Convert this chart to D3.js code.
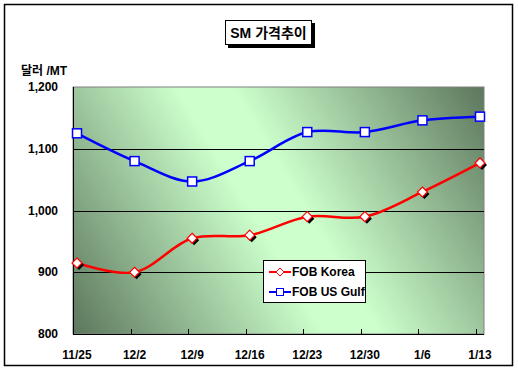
<!DOCTYPE html>
<html>
<head>
<script src="https://d3js.org/d3.v7.min.js"></script>
<style>
body { margin: 0; background: #fff; }
svg { font-family: "Liberation Sans", Arial, "Noto Sans CJK KR", sans-serif; font-weight: bold; }
</style>
</head>
<body>
<svg id="root" width="518" height="374"></svg>
<script>
let dates = ['11/25', '12/2', '12/9', '12/16', '12/23', '12/30', '1/6', '1/13']
let korea = [915, 900, 955, 960, 990, 990, 1030, 1077]
let usGulf = [1125, 1080, 1047, 1080, 1127, 1127, 1146, 1152]
let yTicks = [800, 900, 1000, 1100, 1200]

let svg = d3.select('#root')
let plotL = 73, plotR = 484, plotT = 87, plotB = 334

// frame
svg.append('rect').attr('x', 4.5).attr('y', 4.5).attr('width', 508).attr('height', 361)
	.attr('fill', '#fff').attr('stroke', '#000').attr('stroke-width', 1.5)

let defs = svg.append('defs')
let grad = defs.append('linearGradient').attr('id', 'bg')
	.attr('gradientUnits', 'userSpaceOnUse')
	.attr('x1', plotL).attr('y1', plotB).attr('x2', plotR).attr('y2', plotT)
grad.append('stop').attr('offset', '0%').attr('stop-color', '#5c765c')
grad.append('stop').attr('offset', '45%').attr('stop-color', '#ccffcc')
grad.append('stop').attr('offset', '55%').attr('stop-color', '#ccffcc')
grad.append('stop').attr('offset', '100%').attr('stop-color', '#5c765c')

let x = d3.scalePoint().domain(dates).range([77, 480])
let y = d3.scaleLinear().domain([800, 1200]).range([plotB, plotT])

svg.append('rect').attr('x', plotL).attr('y', plotT).attr('width', plotR - plotL).attr('height', plotB - plotT)
	.attr('fill', 'url(#bg)').attr('stroke', '#808080').attr('stroke-width', 1)

// gridlines
svg.selectAll('.grid').data(yTicks.slice(1, -1)).enter().append('line')
	.attr('x1', plotL).attr('x2', plotR)
	.attr('y1', d => Math.round(y(d)) + 0.5).attr('y2', d => Math.round(y(d)) + 0.5)
	.attr('stroke', '#000')

// axes
svg.append('line').attr('x1', plotL + 0.5).attr('x2', plotL + 0.5).attr('y1', plotT).attr('y2', plotB).attr('stroke', '#000')
svg.append('line').attr('x1', plotL).attr('x2', plotR).attr('y1', plotB + 0.5).attr('y2', plotB + 0.5).attr('stroke', '#000')

// x ticks, inward
svg.selectAll('.xtick').data(dates.slice(1)).enter().append('line')
	.attr('x1', d => Math.round(x(d) - 4) + 0.5).attr('x2', d => Math.round(x(d) - 4) + 0.5)
	.attr('y1', plotB).attr('y2', plotB - 5).attr('stroke', '#000')

svg.selectAll('.xlab').data(dates).enter().append('text')
	.attr('x', d => x(d)).attr('y', 359).attr('text-anchor', 'middle')
	.attr('font-size', 12).text(d => d)

svg.selectAll('.ylab').data(yTicks).enter().append('text')
	.attr('x', 58).attr('y', d => y(d) + 4).attr('text-anchor', 'end')
	.attr('font-size', 12).text(d => d3.format(',')(d))

svg.append('text').attr('x', 21).attr('y', 75).attr('font-size', 12).text('달러 /MT')

// title
svg.append('rect').attr('x', 228).attr('y', 23).attr('width', 87).attr('height', 25).attr('fill', '#000')
svg.append('rect').attr('x', 225.5).attr('y', 20.5).attr('width', 86).attr('height', 24).attr('fill', '#fff').attr('stroke', '#000')
svg.append('text').attr('x', 268.5).attr('y', 38).attr('text-anchor', 'middle').attr('font-size', 14).text('SM 가격추이')

// lines
let line = d3.line().x((d, i) => x(dates[i])).y(d => y(d)).curve(d3.curveCatmullRom.alpha(0.5))

svg.append('path').datum(usGulf).attr('d', line).attr('fill', 'none').attr('stroke', '#0000ff').attr('stroke-width', 2.5)
svg.append('path').datum(korea).attr('d', line).attr('fill', 'none').attr('stroke', '#ff0000').attr('stroke-width', 2.5)

function diamond(g, cx, cy) {
	let r = 5
	g.append('path').attr('d', `M${cx + 2},${cy - r + 2}L${cx + r + 2},${cy + 2}L${cx + 2},${cy + r + 2}L${cx - r + 2},${cy + 2}Z`).attr('fill', '#000')
	g.append('path').attr('d', `M${cx},${cy - r}L${cx + r},${cy}L${cx},${cy + r}L${cx - r},${cy}Z`)
		.attr('fill', '#fff').attr('stroke', '#ff0000').attr('stroke-width', 1.2)
}
function square(g, cx, cy) {
	g.append('rect').attr('x', cx - 4.5).attr('y', cy - 4.5).attr('width', 9).attr('height', 9)
		.attr('fill', '#fff').attr('stroke', '#0000ff').attr('stroke-width', 1.5)
}

let marks = svg.append('g')
usGulf.forEach((d, i) => square(marks, x(dates[i]), y(d)))
korea.forEach((d, i) => diamond(marks, x(dates[i]), y(d)))

// legend
let lg = svg.append('g')
lg.append('rect').attr('x', 263.5).attr('y', 260.5).attr('width', 102).attr('height', 42).attr('fill', '#fff').attr('stroke', '#000')
lg.append('line').attr('x1', 269).attr('x2', 291).attr('y1', 272).attr('y2', 272).attr('stroke', '#ff0000').attr('stroke-width', 2)
lg.append('path').attr('d', 'M280,268L284,272L280,276L276,272Z').attr('fill', '#fff').attr('stroke', '#ff0000')
lg.append('text').attr('x', 292).attr('y', 276).attr('font-size', 12).text('FOB Korea')
lg.append('line').attr('x1', 269).attr('x2', 291).attr('y1', 292).attr('y2', 292).attr('stroke', '#0000ff').attr('stroke-width', 2)
lg.append('rect').attr('x', 276.5).attr('y', 288.5).attr('width', 7).attr('height', 7).attr('fill', '#fff').attr('stroke', '#0000ff')
lg.append('text').attr('x', 292).attr('y', 296).attr('font-size', 12).text('FOB US Gulf')
</script>
</body>
</html>
